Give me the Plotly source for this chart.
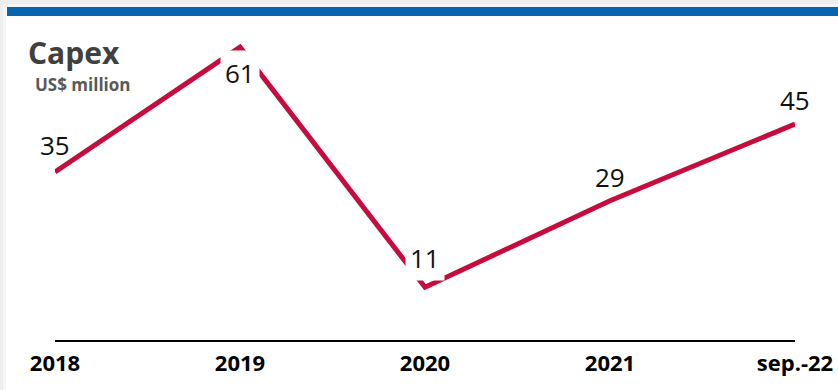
import plotly.graph_objects as go

# Capex by period, US$ million
periods = ["2018", "2019", "2020", "2021", "sep.-22"]
capex = [35, 61, 11, 29, 45]

W, H = 838, 390
M_L, M_R, M_T, M_B = 55, 43, 4, 50
PLOT_W = W - M_L - M_R
PLOT_H = H - M_T - M_B
Y_MAX = 70


def px_x(px):
    """Horizontal pixel -> paper coordinate."""
    return (px - M_L) / PLOT_W


def px_y(py):
    """Vertical pixel (from top) -> paper coordinate."""
    return (H - M_B - py) / PLOT_H


LINE_COLOR = "#C70C3D"
LABEL_FONT = dict(family="Open Sans", size=26, color="#111111")

xpos = list(range(len(periods)))

fig = go.Figure()
fig.add_trace(
    go.Scatter(
        x=xpos,
        y=capex,
        mode="lines",
        line=dict(color=LINE_COLOR, width=5),
        hoverinfo="skip",
        cliponaxis=False,
    )
)

# value labels: offset above/below each point; boxed ones mask the line
label_shift = [27, -26, 29, 24, 24]
label_boxed = [False, True, True, False, False]
annotations = []
for i, v, s, boxed in zip(xpos, capex, label_shift, label_boxed):
    annotations.append(
        dict(
            x=i, y=v, xref="x", yref="y",
            text=str(v), showarrow=False,
            yshift=s, xanchor="center", yanchor="middle",
            font=LABEL_FONT,
            bgcolor="white" if boxed else "rgba(0,0,0,0)",
            borderpad=4,
        )
    )

annotations += [
    dict(
        x=px_x(26), y=px_y(52), xref="paper", yref="paper",
        text="<b>Capex</b>", showarrow=False,
        xanchor="left", yanchor="middle",
        font=dict(family="Open Sans", size=30, color="#404040"),
    ),
    dict(
        x=px_x(33), y=px_y(84), xref="paper", yref="paper",
        text="<b>US$ million</b>", showarrow=False,
        xanchor="left", yanchor="middle",
        font=dict(family="Open Sans", size=17, color="#595959"),
    ),
]

shapes = [
    # soft frame on the left and top edges
    dict(type="rect", xref="paper", yref="paper",
         x0=px_x(0), x1=px_x(W), y0=px_y(H), y1=px_y(0),
         fillcolor="#eeeeee", line=dict(width=0), layer="below"),
    dict(type="rect", xref="paper", yref="paper",
         x0=px_x(3), x1=px_x(W), y0=px_y(H), y1=px_y(4),
         fillcolor="#f5f5f5", line=dict(width=0), layer="below"),
    dict(type="rect", xref="paper", yref="paper",
         x0=px_x(6), x1=px_x(W), y0=px_y(H), y1=px_y(7),
         fillcolor="white", line=dict(width=0), layer="below"),
    # blue header band
    dict(type="rect", xref="paper", yref="paper",
         x0=px_x(7), x1=px_x(W), y0=px_y(16), y1=px_y(7),
         fillcolor="#0565B0", line=dict(width=0), layer="below"),
]

fig.update_layout(
    width=W, height=H,
    margin=dict(l=M_L, r=M_R, t=M_T, b=M_B, autoexpand=False),
    paper_bgcolor="white",
    plot_bgcolor="rgba(0,0,0,0)",
    showlegend=False,
    annotations=annotations,
    shapes=shapes,
    xaxis=dict(
        range=[0, len(periods) - 1],
        tickmode="array", tickvals=xpos, ticktext=periods,
        showline=True, linecolor="black", linewidth=2,
        showgrid=False, zeroline=False, ticks="",
        tickfont=dict(family="Open Sans", size=22, color="black", weight="bold"),
        ticklabelstandoff=3,
        fixedrange=True,
    ),
    yaxis=dict(
        range=[0, Y_MAX],
        visible=False, showgrid=False, zeroline=False,
        fixedrange=True,
    ),
)

fig.write_html("out.html", config={"displayModeBar": False})
